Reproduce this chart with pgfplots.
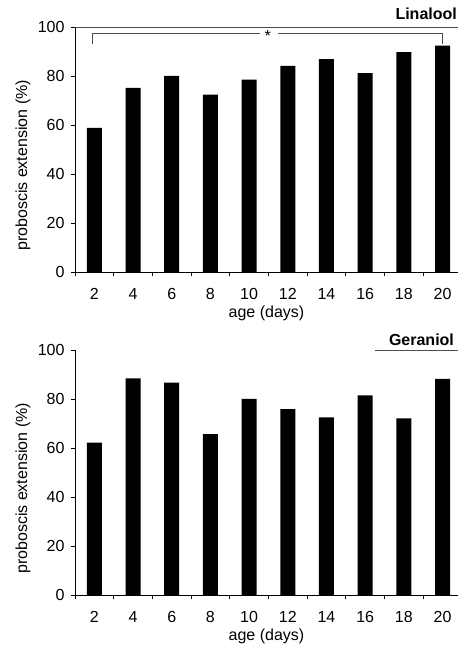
\documentclass[border=0pt]{standalone}
\usepackage{fontspec}
\setmainfont{Liberation Sans}
\usepackage{pgfplots}
\pgfplotsset{compat=1.18}
\pgfplotsset{
 panel/.style={
  scale only axis, width=383bp, height=245bp, anchor=south west,
  xmin=1, xmax=20.8, ymin=0, ymax=100, clip=false,
  axis x line=bottom, axis y line=left,
  axis line style={-, line width=0.7bp},
  xtick={1,3,...,19}, xticklabels={},
  extra x ticks={2,4,...,20},
  extra x tick labels={2,4,6,8,10,12,14,16,18,20},
  extra x tick style={major tick length=0pt},
  ytick={0,20,...,100},
  tick align=outside, tick style={line width=0.7bp, black},
  major tick length=4bp,
  ybar, bar width=15bp,
  font=\fontsize{16bp}{19bp}\selectfont,
  /pgf/number format/assume math mode=true,
  xticklabel style={yshift=-13bp},
  yticklabel style={xshift=-3bp},
  ylabel={proboscis extension (\%)},
  ylabel style={at={(axis description cs:-0.136,0.435)}, anchor=center},
  xlabel={age (days)},
  xlabel style={at={(axis description cs:0.5,0)}, anchor=center, yshift=-41bp},
 }
}
\begin{document}
\begin{tikzpicture}
\useasboundingbox (0,0) rectangle (458bp,647bp);
\begin{axis}[panel, at={(75bp,375bp)}]
\addplot[fill=black, draw=none] coordinates {(2,58.8)(4,75.2)(6,80.0)(8,72.4)(10,78.5)(12,84.1)(14,86.9)(16,81.2)(18,89.7)(20,92.4)};
\draw[black!70, line width=0.6bp] (axis cs:1,100) -- (axis cs:20.8,100);
\draw[black!70, line width=0.6bp] (axis cs:1.91,93) -- (axis cs:1.91,97.3) -- (axis cs:10.55,97.3);
\draw[black!70, line width=0.6bp] (axis cs:11.5,97.3) -- (axis cs:20,97.3) -- (axis cs:20,93);
\node[font=\fontsize{16bp}{19bp}\selectfont] at (axis cs:10.97,96.2) {*};
\node[anchor=base east, font=\fontsize{16bp}{19bp}\selectfont\bfseries, inner sep=0pt] at (axis cs:20.75,102.9) {Linalool};
\end{axis}
\begin{axis}[panel, at={(75bp,52bp)}]
\addplot[fill=black, draw=none] coordinates {(2,62.2)(4,88.4)(6,86.7)(8,65.7)(10,80.0)(12,75.9)(14,72.5)(16,81.5)(18,72.1)(20,88.2)};
\draw[black!70, line width=0.6bp] (axis cs:16.5,100) -- (axis cs:20.8,100);
\node[anchor=base east, font=\fontsize{16bp}{19bp}\selectfont\bfseries, inner sep=0pt] at (axis cs:20.6,102) {Geraniol};
\end{axis}
\end{tikzpicture}
\end{document}
